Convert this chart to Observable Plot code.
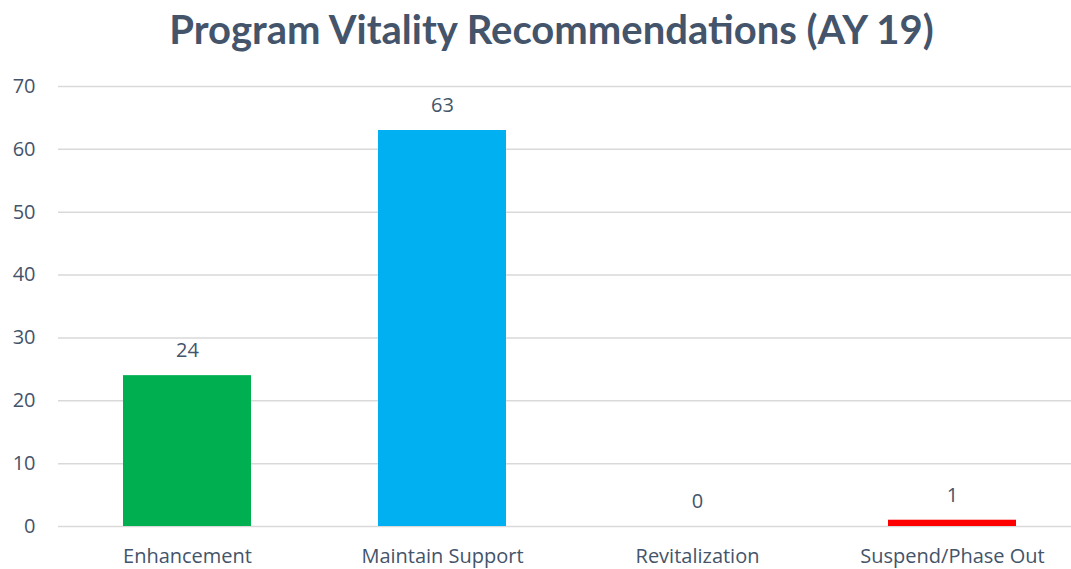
<!DOCTYPE html>
<html><head><meta charset="utf-8">
<script src="https://cdn.jsdelivr.net/npm/d3@7"></script>
<script src="https://cdn.jsdelivr.net/npm/@observablehq/plot@0.6"></script>
<style>
body{margin:0;background:#fff;width:1071px;height:569px;overflow:hidden;}
#title{height:70px;line-height:58px;text-align:center;padding-left:32px;box-sizing:border-box;font-family:Lato,"Open Sans",sans-serif;font-weight:bold;font-size:40px;color:#44546A;}
</style></head>
<body><div id="title">Program Vitality Recommendations (AY 19)</div><div id="chart"></div>
<script>
const categories = ["Enhancement","Maintain Support","Revitalization","Suspend/Phase Out"];
const values = [24, 63, 0, 1];
const colors = ["#00B050","#00B0F0","#A5A5A5","#FF0000"];
const yTicks = [0,10,20,30,40,50,60,70];

const data = categories.map((c,i)=>({category:c,value:values[i],color:colors[i]}));
const font = '"Open Sans", sans-serif';
const chart = Plot.plot({
  width:1071, height:499,
  marginLeft:58, marginRight:0, marginTop:16, marginBottom:43,
  style:{fontFamily:font,fontSize:"20px",color:"#44546A",background:"#fff"},
  x:{domain:categories,range:[58,1081],paddingInner:0.5,paddingOuter:0.25,label:null},
  y:{domain:[0,70],label:null},
  marks:[
    Plot.ruleY(yTicks,{stroke:"#D9D9D9",strokeWidth:1.5}),
    Plot.barY(data,{x:"category",y:"value",fill:"color"}),
    Plot.text(data,{x:"category",y:"value",text:d=>String(d.value),dy:-25,fill:"#44546A",fontSize:20}),
    Plot.axisY(yTicks,{tickSize:0,tickPadding:23,fontSize:20,fill:"#44546A",label:null}),
    Plot.axisX({tickSize:0,tickPadding:22,fontSize:20,fill:"#44546A",label:null})
  ]
});
document.getElementById("chart").appendChild(chart);
</script></body></html>
